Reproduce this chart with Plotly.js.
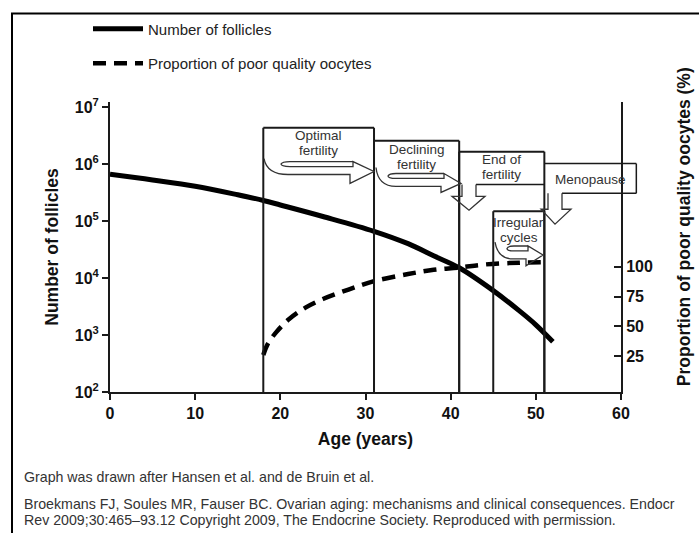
<!DOCTYPE html>
<html><head><meta charset="utf-8">
<script src="https://cdn.plot.ly/plotly-3.0.1.min.js"></script>
<style>html,body{margin:0;padding:0;background:#fff;}#chart{width:699px;height:533px;}</style>
</head><body><div id="chart"></div>
<script>
// ---- data ----
const follicleAge = [0, 5, 10, 15, 18, 20, 25, 31, 35, 38, 41, 45, 48, 50, 52];
const follicleCount = [661000, 525000, 407000, 288000, 229000, 191000, 120000, 66000, 40000, 24500, 15100, 6000, 2700, 1510, 760];
const oocyteAge = [18, 18.5, 19.5, 21, 23, 25, 28, 31, 35, 38, 41, 44, 48, 51];
const poorQualityPct = [26, 35, 45, 56, 66, 73, 81, 88, 94, 97.5, 99.5, 102, 103.5, 104];
const xTickVals = [0, 10, 20, 30, 40, 50, 60];
const yTickVals = [1e2, 1e3, 1e4, 1e5, 1e6, 1e7];
const yTickText = ['10<sup>2</sup>', '10<sup>3</sup>', '10<sup>4</sup>', '10<sup>5</sup>', '10<sup>6</sup>', '10<sup>7</sup>'];
const y2TickVals = [25, 50, 75, 100];
const stageNames = ['Optimal<br>fertility', 'Declining<br>fertility', 'End of<br>fertility', 'Irregular<br>cycles', 'Menopause'];
const stageStart = [18, 31, 41, 45, 51];
const stageEnd = [31, 41, 51, 51, 61.8];

// ---- layout geometry helpers (pixel -> paper) ----
const PL = 110, PR = 621, PT = 100, PB = 392;
const PW = PR - PL, PH = PB - PT;
const px = p => (p - PL) / PW;
const py = p => (PB - p) / PH;
const ax = a => a / 60; // age -> paper x
const ink = '#1a1a1a';
const FAM = 'Liberation Sans, Arial, sans-serif';
const boxTop = [126, 139, 150, 210, 162];
const labelY = [134, 148, 158, 221, 178];
const labelGap = 15;

function seg(x0, y0, x1, y1, w) {
  return {type: 'line', xref: 'paper', yref: 'paper', x0: x0, y0: y0, x1: x1, y1: y1,
          line: {color: ink, width: w || 2}};
}
function pathShape(d, w) {
  const conv = d.replace(/(-?\d+\.?\d*),(-?\d+\.?\d*)/g, (m, a, b) => px(+a).toFixed(5) + ',' + py(+b).toFixed(5));
  return {type: 'path', xref: 'paper', yref: 'paper', path: conv, line: {color: '#333', width: w || 1.3}};
}

const shapes = [];
// outer frame
shapes.push({type: 'rect', xref: 'paper', yref: 'paper', x0: px(12), x1: px(712), y0: py(545), y1: py(11),
             line: {color: '#000', width: 2}});
// stage boxes (vertical edges + tops)
for (let i = 0; i < 4; i++) {
  shapes.push(seg(ax(stageStart[i]), 0, ax(stageStart[i]), py(boxTop[i])));
  shapes.push(seg(ax(stageEnd[i]), 0, ax(stageEnd[i]), py(boxTop[i])));
  shapes.push(seg(ax(stageStart[i]), py(boxTop[i]), ax(stageEnd[i]), py(boxTop[i])));
}
// end-of-fertility box bottom
shapes.push(seg(px(476), py(183), ax(stageEnd[2]), py(183), 1.5));
// menopause floating box
shapes.push(seg(ax(stageStart[4]), py(boxTop[4]), ax(stageEnd[4]), py(boxTop[4]), 1.5));
shapes.push(seg(ax(stageEnd[4]), py(boxTop[4]), ax(stageEnd[4]), py(192), 1.5));
shapes.push(seg(px(562), py(192), ax(stageEnd[4]), py(192), 1.5));
// arrows
shapes.push(pathShape('M264,157 Q267,173 288,173 L350,173 L350,182 L374,170 L353,160 L353,165 L290,165 Q281,165 281,162.5 Q282,160 290,160 L353,160'));
shapes.push(pathShape('M376,166 Q378,185 396,185 L441,185 L441,191 L461,182 L444,172 L444,177 L396,177 Q388,177 388,174.5 Q389,172 396,172 L444,172'));
shapes.push(pathShape('M462,183 L462,195 L452,195 L469,209 L485,195 L476,195 L476,183'));
shapes.push(pathShape('M548,192 L548,208 L541,208 L555,223 L571,208 L562,208 L562,192'));
shapes.push(pathShape('M495,241 Q498,258 513,258 L526,258 L526,265 L543,254 L528,245 L528,250 L514,250 Q507,250 507,247.5 Q508,245 514,245 L528,245'));

const annotations = [];
stageNames.forEach((s, i) => {
  const xc = i === 4 ? 590 : (PL + (stageStart[i] + stageEnd[i]) / 2 * PW / 60);
  s.split('<br>').forEach((line, j) => {
    annotations.push({xref: 'paper', yref: 'paper', x: px(xc), y: py(labelY[i] + j * labelGap), text: line, showarrow: false,
      xanchor: 'center', yanchor: 'middle', font: {family: FAM, size: 13.5, color: '#333'}});
  });
});
annotations.push({xref: 'paper', yref: 'paper', x: px(684), y: py(226), text: 'Proportion of poor quality oocytes (%)',
  textangle: -90, showarrow: false, xanchor: 'center', yanchor: 'middle',
  font: {family: FAM, size: 17.5, color: '#111', weight: 'bold'}});
const foot = {family: FAM, size: 14.2, color: '#333'};
annotations.push({xref: 'paper', yref: 'paper', x: px(22), y: py(478), text: 'Graph was drawn after Hansen et al. and de Bruin et al.',
  showarrow: false, xanchor: 'left', yanchor: 'middle', font: foot});
annotations.push({xref: 'paper', yref: 'paper', x: px(22), y: py(505), text: 'Broekmans FJ, Soules MR, Fauser BC. Ovarian aging: mechanisms and clinical consequences. Endocr',
  showarrow: false, xanchor: 'left', yanchor: 'middle', font: foot});
annotations.push({xref: 'paper', yref: 'paper', x: px(22), y: py(521), text: 'Rev 2009;30:465–93.12 Copyright 2009, The Endocrine Society. Reproduced with permission.',
  showarrow: false, xanchor: 'left', yanchor: 'middle', font: foot});

const tickFont = {family: FAM, size: 16, color: '#111', weight: 'bold'};
const titleFont = {family: FAM, size: 17.5, color: '#111', weight: 'bold'};

const traces = [
  {x: follicleAge, y: follicleCount, type: 'scatter', mode: 'lines', name: 'Number of follicles',
   line: {color: '#000', width: 5, shape: 'spline'}, yaxis: 'y', legendgroup: 'a', hoverinfo: 'x+y'},
  {x: oocyteAge, y: poorQualityPct, type: 'scatter', mode: 'lines', name: 'Proportion of poor quality oocytes',
   line: {color: '#000', width: 4.5, dash: '13px,8px', shape: 'spline'}, yaxis: 'y2', legendgroup: 'b', hoverinfo: 'x+y'}
];

const layout = {
  width: 699, height: 533,
  margin: {l: PL, r: 699 - PR, t: PT, b: 533 - PB, pad: 0},
  paper_bgcolor: '#fff', plot_bgcolor: '#fff',
  showlegend: true,
  legend: {x: px(88), y: py(10), xanchor: 'left', yanchor: 'top', traceorder: 'grouped', tracegroupgap: 12,
           itemwidth: 50, bgcolor: 'rgba(0,0,0,0)', font: {family: FAM, size: 15, color: '#222'}},
  xaxis: {range: [0, 60], tickvals: xTickVals, ticks: 'outside', ticklen: 6, tickwidth: 2, tickcolor: ink,
          showline: true, linecolor: ink, linewidth: 2, showgrid: false, zeroline: false, tickfont: tickFont,
          title: {text: 'Age (years)', font: titleFont, standoff: 12}},
  yaxis: {type: 'log', range: [2, 2 + PH / 57.4], tickvals: yTickVals, ticktext: yTickText, ticks: 'outside',
          ticklen: 6, tickwidth: 2, tickcolor: ink, showline: true, linecolor: ink, linewidth: 2, showgrid: false,
          zeroline: false, tickfont: tickFont, title: {text: 'Number of follicles', font: titleFont, standoff: 12}},
  yaxis2: {overlaying: 'y', side: 'right', range: [-5, (386 - PT) / 1.2], tickvals: y2TickVals, ticks: 'inside',
           ticklen: 7, tickwidth: 2, tickcolor: ink, showline: true, linecolor: ink, linewidth: 2, showgrid: false,
           zeroline: false, tickfont: tickFont},
  shapes: shapes,
  annotations: annotations
};

Plotly.newPlot('chart', traces, layout, {displayModeBar: false, staticPlot: true});
</script>
</body></html>
